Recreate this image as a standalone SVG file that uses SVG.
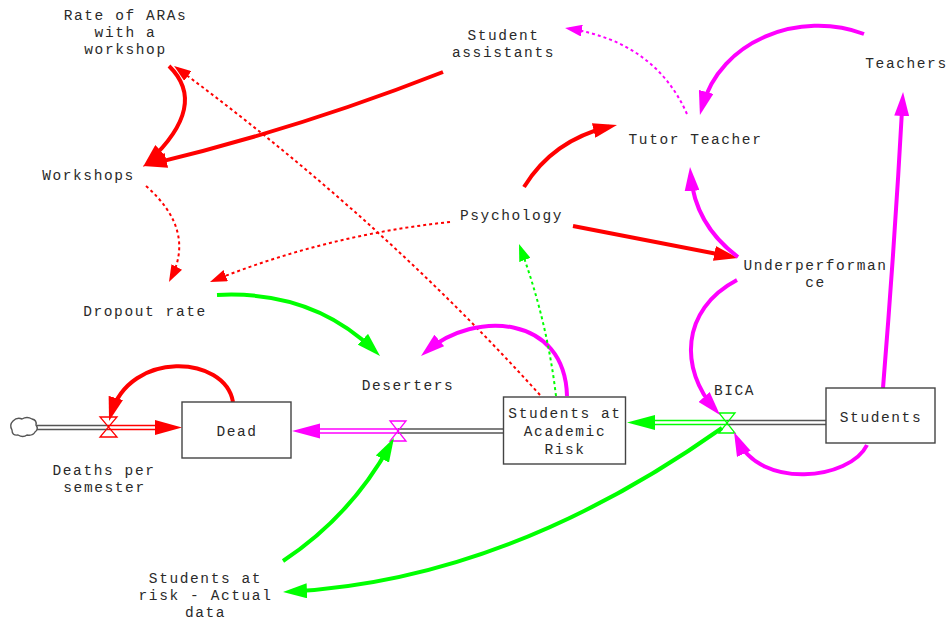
<svg xmlns="http://www.w3.org/2000/svg" width="948" height="623" viewBox="0 0 948 623">
<style>
text{font-family:"Liberation Mono","DejaVu Sans Mono",monospace;font-size:14.5px;letter-spacing:1.6px;fill:#2a2a2a;text-anchor:middle}
.box{fill:#fff;stroke:#444;stroke-width:1.4}
.thick{fill:none;stroke-width:4;stroke-linecap:butt}
.dot{fill:none;stroke-width:2;stroke-dasharray:3 3}
.r{stroke:#ff0000}.g{stroke:#00ff00}.m{stroke:#ff00ff}
.pipeo{fill:none;stroke-width:5.5}
.pipei{fill:none;stroke:#fff;stroke-width:2.5}
.valve{fill:none;stroke-width:1.3}
</style>
<defs>
<marker id="aR" markerUnits="userSpaceOnUse" markerWidth="24" markerHeight="15" viewBox="0 0 24 15" refX="16" refY="7.5" orient="auto"><path d="M0,0 L24,7.5 L0,15 Z" fill="#ff0000"/></marker>
<marker id="aG" markerUnits="userSpaceOnUse" markerWidth="24" markerHeight="15" viewBox="0 0 24 15" refX="16" refY="7.5" orient="auto"><path d="M0,0 L24,7.5 L0,15 Z" fill="#00ff00"/></marker>
<marker id="aM" markerUnits="userSpaceOnUse" markerWidth="24" markerHeight="15" viewBox="0 0 24 15" refX="16" refY="7.5" orient="auto"><path d="M0,0 L24,7.5 L0,15 Z" fill="#ff00ff"/></marker>
<marker id="sR" markerUnits="userSpaceOnUse" markerWidth="17" markerHeight="12" viewBox="0 0 17 12" refX="13" refY="6" orient="auto"><path d="M0,0 L17,6 L0,12 Z" fill="#ff0000"/></marker>
<marker id="sG" markerUnits="userSpaceOnUse" markerWidth="17" markerHeight="12" viewBox="0 0 17 12" refX="13" refY="6" orient="auto"><path d="M0,0 L17,6 L0,12 Z" fill="#00ff00"/></marker>
<marker id="sM" markerUnits="userSpaceOnUse" markerWidth="17" markerHeight="12" viewBox="0 0 17 12" refX="13" refY="6" orient="auto"><path d="M0,0 L17,6 L0,12 Z" fill="#ff00ff"/></marker>
</defs>
<rect width="948" height="623" fill="#fff"/>

<g id="flows">
  <!-- Deaths per semester pipe -->
  <path class="pipeo" stroke="#555" d="M37,427.5 H108"/>
  <path class="pipeo" stroke="#ff0000" d="M108,427.5 H158"/>
  <path class="pipei" d="M37,427.5 H158"/>
  <path d="M155,420 L182,427.5 L155,435 Z" fill="#ff0000"/>
  <path class="valve" stroke="#ff0000" d="M100,417 H117 L100,437 H117 Z"/>
  <!-- Deserters pipe -->
  <path class="pipeo" stroke="#555" d="M504,431 H398"/>
  <path class="pipeo" stroke="#ff00ff" d="M398,431 H317"/>
  <path class="pipei" d="M504,431 H317"/>
  <path d="M320,423.5 L292,431 L320,438.5 Z" fill="#ff00ff"/>
  <path class="valve" stroke="#ff00ff" d="M390,421 H406 L390,441 H406 Z"/>
  <!-- BICA pipe -->
  <path class="pipeo" stroke="#555" d="M826,422.5 H727"/>
  <path class="pipeo" stroke="#00ff00" d="M727,422.5 H652"/>
  <path class="pipei" d="M826,422.5 H652"/>
  <path d="M655,415 L627,422.5 L655,430 Z" fill="#00ff00"/>
  <path class="valve" stroke="#00ff00" d="M719,413 H735 L719,433 H735 Z"/>
  <!-- cloud -->
  <path d="M13,421 q4,-4 9,-2 q5,-3 10,0 q5,1 4,6 q3,4 -1,7 q-2,4 -8,3 q-4,3 -9,0 q-6,1 -6,-5 q-3,-5 1,-9 z" fill="#fff" stroke="#555" stroke-width="1.4"/>
</g>

<g id="connectors">
  <path class="thick r" marker-end="url(#aR)" d="M169,66 Q209,105 148.8,161.5"/>
  <path class="thick r" marker-end="url(#aR)" d="M443,72 Q298,129 150.8,164.1"/>
  <path class="dot r" marker-end="url(#sR)" d="M540,395 Q380,218 177.3,68.3"/>
  <path class="dot r" marker-end="url(#sR)" d="M146,186 Q196,230 170.8,278.5"/>
  <path class="dot r" marker-end="url(#sR)" d="M450,222 Q327,235 213.7,280.5"/>
  <path class="thick g" marker-end="url(#aG)" d="M217,295 Q312,290 374.3,350.4"/>
  <path class="thick m" marker-end="url(#aM)" d="M567,396 C565,315 475,310 427.1,350.8"/>
  <path class="thick r" marker-end="url(#aR)" d="M233,402 C225,355 130,350 111.3,413.3"/>
  <path class="thick g" marker-end="url(#aG)" d="M283,561 Q351,516 390.1,445"/>
  <path class="thick g" marker-end="url(#aG)" d="M722,428 Q507,580 291,591.6"/>
  <path class="dot g" marker-end="url(#sG)" d="M556,396 Q547,320 520.4,247.8"/>
  <path class="thick r" marker-end="url(#aR)" d="M524,187 Q553,140 609.2,126.8"/>
  <path class="thick r" marker-end="url(#aR)" d="M573,226 L730.1,256.5"/>
  <path class="thick m" marker-end="url(#aM)" d="M738,257 Q695,225 690.7,175"/>
  <path class="thick m" marker-end="url(#aM)" d="M737,280 C680,310 680,370 714.7,409"/>
  <path class="thick m" marker-end="url(#aM)" d="M867,445 C850,480 760,490 737.3,439.3"/>
  <path class="thick m" marker-end="url(#aM)" d="M883,388 Q895,240 902.6,100"/>
  <path class="thick m" marker-end="url(#aM)" d="M864,34 C800,10 720,40 702,107.3"/>
  <path class="dot m" marker-end="url(#sM)" d="M687,114 Q655,42 569,28.6"/>
</g>

<g id="dead"><rect class="box" x="182" y="402" width="109" height="56"/><text x="237" y="436">Dead</text></g>
<g id="sar"><rect class="box" x="503.5" y="397" width="122" height="67"/><text x="565" y="418">Students at</text><text x="565" y="436">Academic</text><text x="565" y="454">Risk</text></g>
<g id="students"><rect class="box" x="826" y="388" width="109" height="55"/><text x="881" y="422">Students</text></g>

<g id="rate-aras"><text x="125.5" y="20">Rate of ARAs</text><text x="125.5" y="37">with a</text><text x="125.5" y="54">workshop</text></g>
<g id="workshops"><text x="88.5" y="180">Workshops</text></g>
<g id="student-assistants"><text x="503.5" y="40">Student</text><text x="503.5" y="57">assistants</text></g>
<g id="teachers"><text x="906.5" y="68">Teachers</text></g>
<g id="tutor-teacher"><text x="695.5" y="144">Tutor Teacher</text></g>
<g id="psychology"><text x="511.5" y="220">Psychology</text></g>
<g id="underperformance"><text x="815.5" y="270">Underperforman</text><text x="815.5" y="287">ce</text></g>
<g id="dropout-rate"><text x="145" y="316">Dropout rate</text></g>
<g id="deserters"><text x="408" y="390">Deserters</text></g>
<g id="bica"><text x="734.5" y="395">BICA</text></g>
<g id="deaths"><text x="104" y="475">Deaths per</text><text x="104.5" y="492">semester</text></g>
<g id="actual-data"><text x="205.5" y="583">Students at</text><text x="205.5" y="600">risk - Actual</text><text x="205.5" y="617">data</text></g>
</svg>
